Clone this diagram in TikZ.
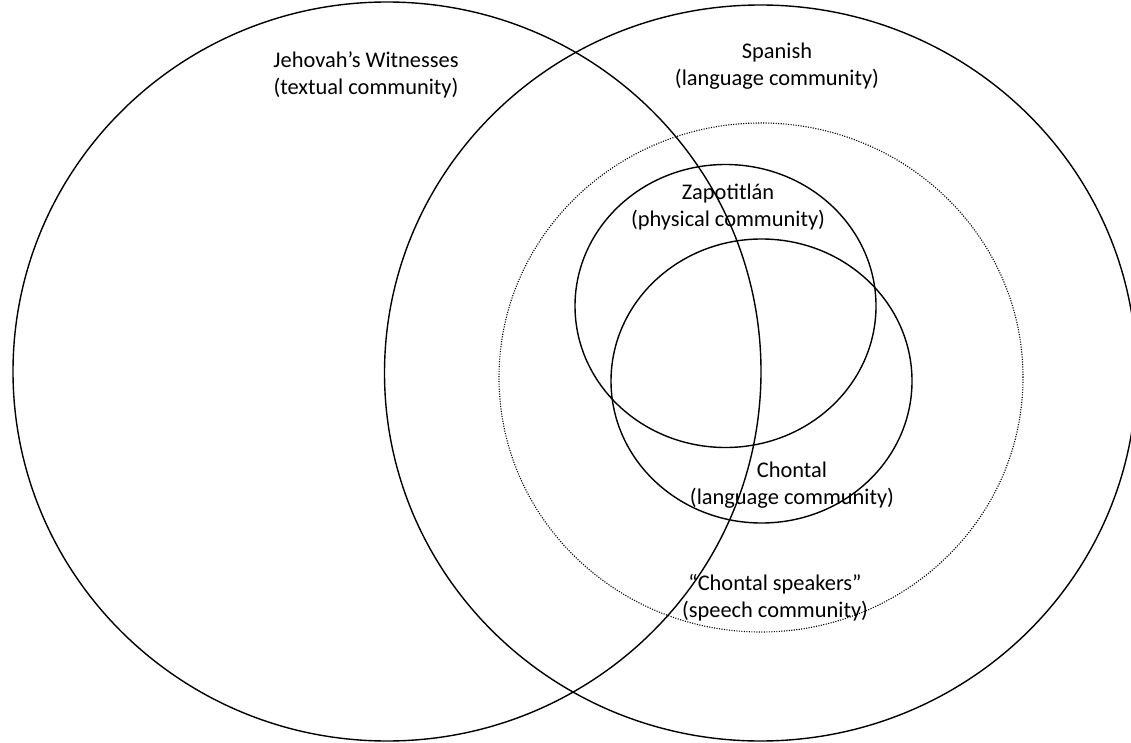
\documentclass[tikz,border=0pt]{standalone}
\usepackage{fontspec}
\setmainfont{Carlito}
\usetikzlibrary{shapes.geometric}
\begin{document}
\begin{tikzpicture}[x=1pt,y=-1pt,
  ring/.style={draw=black, line width=1.4pt, ellipse, inner sep=0pt},
  dotring/.style={draw=black, line width=1.1pt, ellipse, inner sep=0pt, dash pattern=on 1.1pt off 1.4pt},
  lbl/.style={align=center, inner sep=0pt, font=\fontsize{22.4}{27}\selectfont}]
\useasboundingbox (0,0) rectangle (1131,743);
\node[ring, minimum width=748pt, minimum height=739pt] (jw) at (387,371.5) {};
\node[ring, minimum width=752pt, minimum height=736pt] (sp) at (760.5,373) {};
\node[dotring, minimum width=524pt, minimum height=509pt] (cs) at (761,377.5) {};
\node[ring, minimum width=301pt, minimum height=283pt] (za) at (725.5,306) {};
\node[ring, minimum width=301pt, minimum height=284pt] (ch) at (761.5,381) {};
\node[lbl] (jwl) at (366,75) {Jehovah’s Witnesses\\(textual community)};
\node[lbl] (spl) at (777,66) {Spanish\\(language community)};
\node[lbl] (zal) at (728,207) {Zapotitlán\\(physical community)};
\node[lbl] (chl) at (792,485) {Chontal\\(language community)};
\node[lbl] (csl) at (775,597.5) {“Chontal speakers”\\(speech community)};
\end{tikzpicture}
\end{document}
